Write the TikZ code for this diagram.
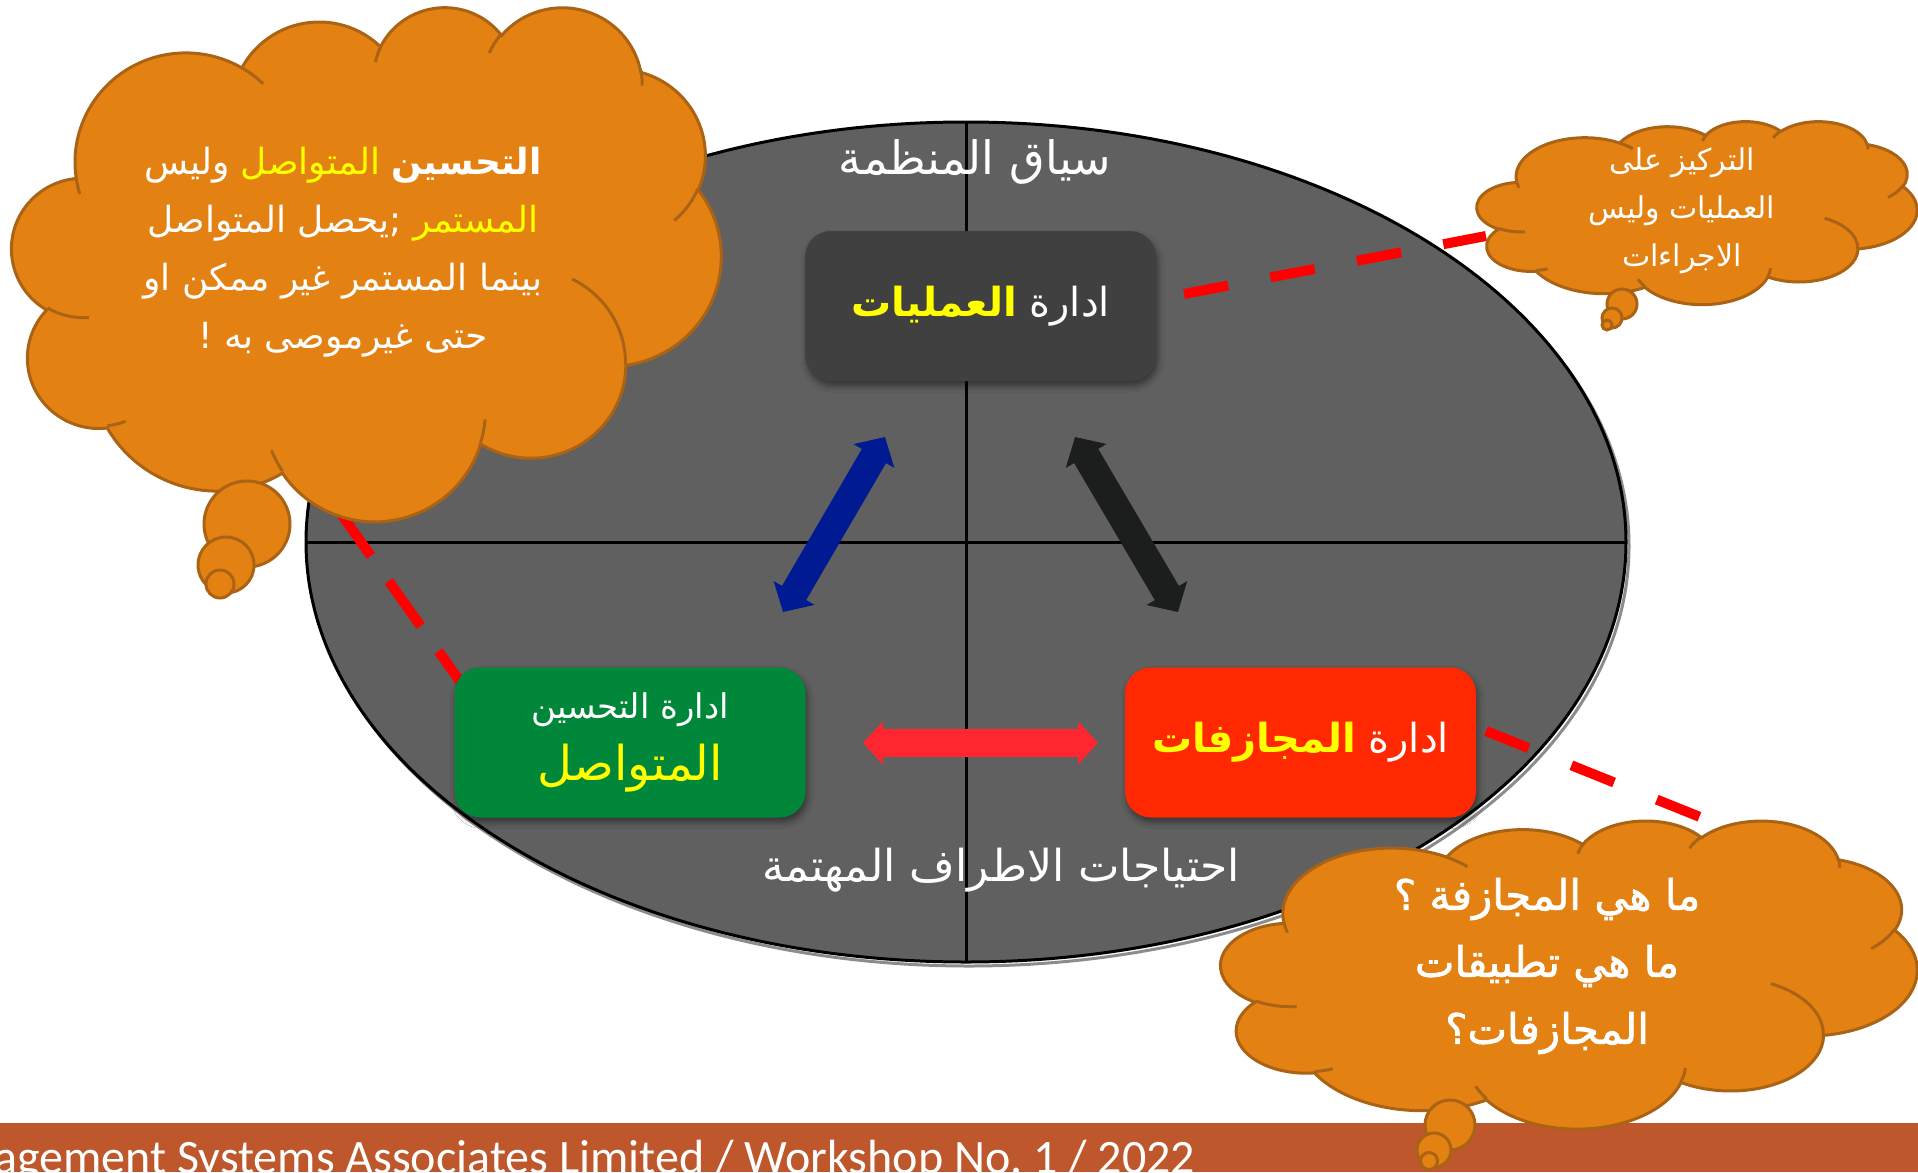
\documentclass[tikz,border=0pt]{standalone}
\usepackage{fontspec}
\usetikzlibrary{arrows.meta,shadows.blur}
\TeXXeTstate=1
\newfontfamily\arabicfont[Script=Arabic]{DejaVu Sans}
\newfontfamily\arabicheavy[Script=Arabic,FakeBold=1.6]{DejaVu Sans}
\newfontfamily\footfont{Carlito}
\newcommand\artxt[1]{\beginR#1\endR}

\definecolor{ellgray}{RGB}{96,96,96}
\definecolor{opsgray}{RGB}{64,64,64}
\definecolor{impgreen}{RGB}{0,135,58}
\definecolor{riskred}{RGB}{255,40,0}
\definecolor{cloudfill}{RGB}{227,130,19}
\definecolor{cloudstroke}{RGB}{170,98,20}
\definecolor{footband}{RGB}{190,88,44}
\definecolor{arrblue}{RGB}{0,26,146}
\definecolor{arrblack}{RGB}{28,30,30}
\definecolor{arrred}{RGB}{255,38,48}
\definecolor{dashred}{RGB}{255,0,0}
\definecolor{hiyellow}{RGB}{255,255,0}

% one elliptic puff: radii, start angle and sweep (geometric degrees)
\newcommand\cloudarc[4]{arc[x radius=#1, y radius=#2, start angle={pang(#3,#1,#2)}, end angle={pang(#3+(#4),#1,#2)}]}

% cloud outline plus inner puff arcs, drawn in a 100x100 box
% #1,#2 top-left corner, #3,#4 size of one box unit
\newcommand\cloudshape[4]{%
  \begin{scope}[shift={(#1,#2)}, x=#3pt, y=-#4pt]
    \path[cloudbody] (9.028,33.264)
      \cloudarc{15.632}{21.273}{-190.4875}{123.7805}
      \cloudarc{12.345}{16.822}{-144.1024}{89.9452}
      \cloudarc{10.104}{13.762}{-145.8079}{99.7230}
      \cloudarc{11.243}{15.266}{-130.9861}{117.2417}
      \cloudarc{12.345}{16.836}{-78.7089}{109.0269}
      \cloudarc{15.683}{21.343}{-46.2673}{130.2690}
      \cloudarc{13.391}{18.211}{0.6250}{114.0333}
      \cloudarc{15.630}{21.331}{22.4516}{115.1726}
      \cloudarc{17.870}{24.405}{66.2426}{75.7110}
      \cloudarc{10.093}{13.699}{-274.9421}{146.7356}
      \cloudarc{10.058}{13.762}{-246.8285}{152.5189}
      -- cycle;
    \path[cloudline]
      (10.863,60.595) \cloudarc{10.058}{13.762}{86.7420}{26.4295}
      (16.037,80.785) \cloudarc{10.093}{13.699}{73.6105}{11.4475}
      (38.144,90.486) \cloudarc{15.630}{21.331}{137.6242}{14.0811}
      (66.729,80.442) \cloudarc{15.630}{21.331}{6.4533}{15.9984}
      (79.002,53.134) \cloudarc{13.391}{18.211}{-70.2924}{70.9174}
      (96.755,35.542) \cloudarc{12.345}{16.836}{30.3180}{27.7515}
      (88.713,12.560) \cloudarc{11.243}{15.266}{-13.7443}{14.8589}
      (67.310,9.148) \cloudarc{11.243}{15.266}{-149.1815}{18.1954}
      (51.252,10.926) \cloudarc{10.104}{13.762}{-163.4943}{17.6864}
      (32.407,12.019) \cloudarc{15.632}{21.273}{-66.7070}{12.3194}
      (9.553,36.549) \cloudarc{15.632}{21.273}{157.6544}{11.8582};
  \end{scope}}

\tikzset{
  cloudbody/.style={fill=cloudfill, draw=cloudstroke, line width=3pt},
  cloudline/.style={draw=cloudstroke, line width=3pt},
  boxnode/.style={rounded corners=26pt, minimum width=351pt, minimum height=150pt,
    inner sep=0pt, align=center, text=white,
    blur shadow={shadow xshift=2pt, shadow yshift=-5pt, shadow blur radius=6pt, shadow opacity=45}},
  fatarrow/.style={line width=28pt, arrows={Triangle[length=22pt,width=46pt]-Triangle[length=22pt,width=46pt]}},
  dashline/.style={draw=dashred, line width=10pt},
  whitetext/.style={text=white, inner sep=0pt, align=center}
}

\begin{document}
\begin{tikzpicture}[x=1pt, y=-1pt,
  declare function={pang(\qq,\ra,\rb)=(\qq)+mod(atan2((\ra)*sin(\qq),(\rb)*cos(\qq))-(\qq)+540,360)-180;}]
\useasboundingbox (0,0) rectangle (1918,1172);
\fill[white] (0,0) rectangle (1918,1172);

% footer band
\fill[footband] (0,1123) rectangle (1918,1172);
\node[anchor=base west, text=white, inner sep=0pt, font=\footfont\fontsize{48}{56}\selectfont]
  (foottext) at (-6,1173) {agement Systems Associates Limited / Workshop No.\ 1 / 2022};

% context ellipse with its cross
\draw[black!45, line width=3pt] (969,546) ellipse[x radius=660, y radius=420];
\filldraw[fill=ellgray, draw=black, line width=3pt] (966,542) ellipse[x radius=660, y radius=420];
\draw[line width=3pt] (306,542) -- (1626,542);
\draw[line width=3pt] (966,122) -- (966,962);

\node[whitetext, font=\arabicfont\fontsize{46}{52}\selectfont] (ctxlabel) at (975,162) {\artxt{سياق المنظمة}};
\node[whitetext, font=\arabicfont\fontsize{44}{50}\selectfont] (needslabel) at (1001,870) {\artxt{احتياجات الاطراف المهتمة}};

% dashed pointers
\coordinate (opsR) at (1184,294);
\coordinate (trW) at (1486,236);
\coordinate (lcS) at (339,511);
\coordinate (impNW) at (471,697);
\coordinate (riskR) at (1486,731);
\coordinate (brN) at (1700,817);
\draw[dashline, dash pattern=on 45pt off 43pt] (opsR) -- (trW);
\draw[dashline, dash pattern=on 55pt off 31pt] (lcS) -- (impNW);
\draw[dashline, dash pattern=on 46pt off 46pt] (riskR) -- (brN);

% the three processes
\node[boxnode, fill=opsgray, font=\arabicfont\fontsize{40}{48}\selectfont] (ops) at (980.5,306)
  {{\bfseries\color{hiyellow}\artxt{العمليات}} \artxt{ادارة}};
\node[boxnode, fill=impgreen, font=\arabicfont\fontsize{34}{62}\selectfont] (imp) at (630,742.5)
  {\artxt{ادارة التحسين}\\{\fontsize{48}{56}\selectfont\color{hiyellow}\artxt{المتواصل}}};
\node[boxnode, fill=riskred, font=\arabicfont\fontsize{40}{48}\selectfont] (risk) at (1300.5,742.5)
  {{\bfseries\color{hiyellow}\artxt{المجازفات}} \artxt{ادارة}};

% interactions
\coordinate (blueA) at (783,612);
\coordinate (blueB) at (885,437);
\coordinate (blackA) at (1075,437);
\coordinate (blackB) at (1178,612);
\coordinate (redA) at (863,743);
\coordinate (redB) at (1098,743);
\draw[fatarrow, draw=arrblue] (blueA) -- (blueB);
\draw[fatarrow, draw=arrblack] (blackA) -- (blackB);
\draw[line width=28pt, draw=arrred, arrows={Triangle[length=20pt,width=42pt]-Triangle[length=20pt,width=42pt]}] (redA) -- (redB);

% left cloud
\cloudshape{12}{6}{7.09}{5.14}
\filldraw[cloudbody] (247,524) circle[radius=43];
\filldraw[cloudbody] (226,565) circle[radius=28];
\filldraw[cloudbody] (220,584) circle[radius=14];
\node[whitetext, font=\arabicfont\fontsize{36}{58}\selectfont] (lctext) at (343,252)
  {\artxt{وليس} {\color{hiyellow}\artxt{المتواصل}} {\bfseries\artxt{التحسين}}\\
   \artxt{;يحصل المتواصل} {\color{hiyellow}\artxt{المستمر}}\\
   \artxt{بينما المستمر غير ممكن او}\\
   \artxt{حتى غيرموصى به !}};

% top right cloud
\cloudshape{1477}{121}{4.40}{1.83}
\filldraw[cloudbody] (1622,304) circle[radius=15];
\filldraw[cloudbody] (1612,318) circle[radius=10];
\filldraw[cloudbody] (1607,325) circle[radius=5];
\node[whitetext, font=\arabicfont\fontsize{30}{48}\selectfont] (trtext) at (1682,211)
  {\artxt{التركيز على}\\\artxt{العمليات وليس}\\\artxt{الاجراءات}};

% bottom right cloud
\cloudshape{1221}{820}{6.96}{3.08}
\filldraw[cloudbody] (1450,1125) circle[radius=25];
\filldraw[cloudbody] (1434,1150) circle[radius=17];
\filldraw[cloudbody] (1429,1161) circle[radius=8.5];
\node[whitetext, font=\arabicheavy\fontsize{42}{67}\selectfont] (brtext) at (1547,966)
  {\artxt{ما هي المجازفة ؟}\\\artxt{ما هي تطبيقات}\\\artxt{المجازفات؟}};
\end{tikzpicture}
\end{document}
